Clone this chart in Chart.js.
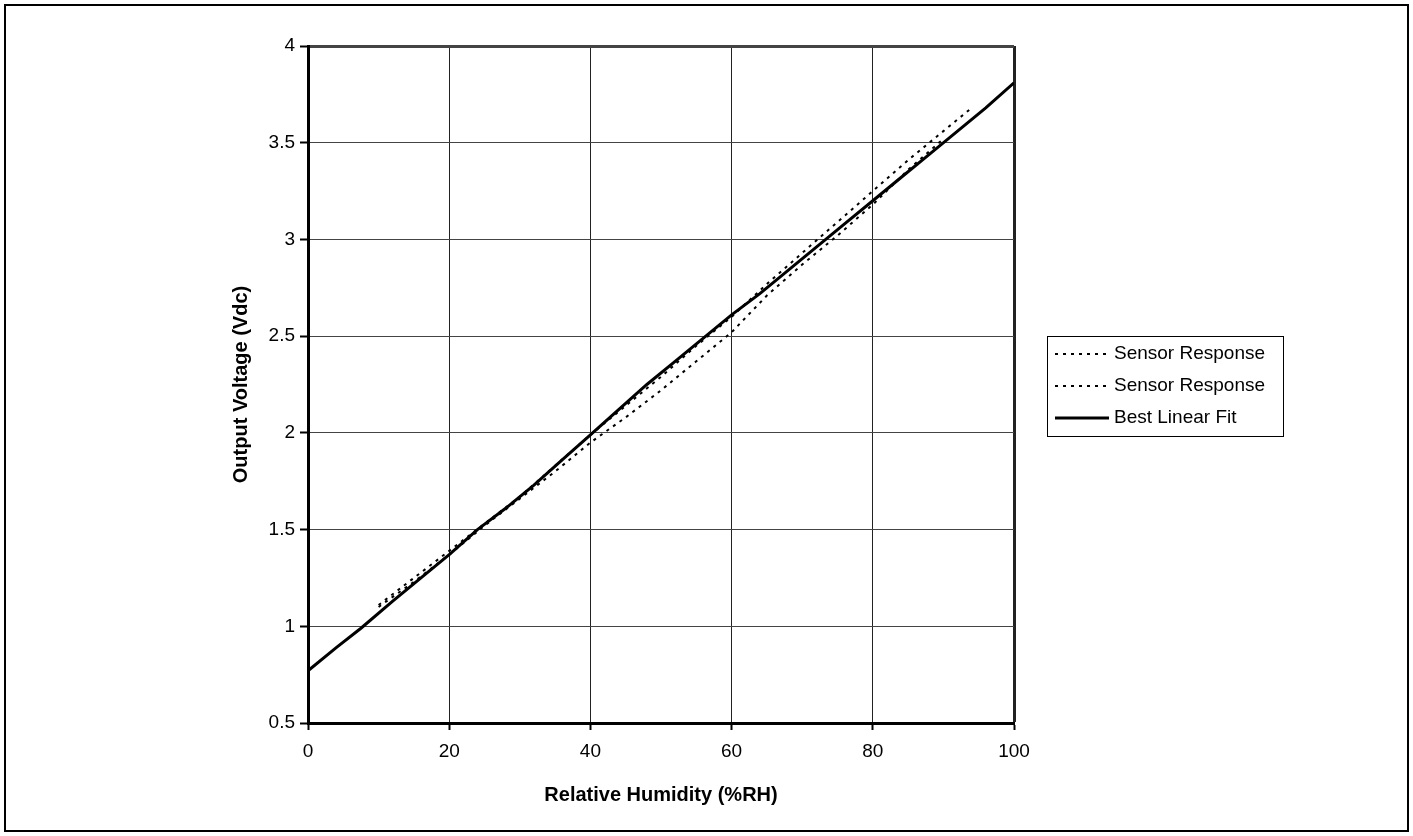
<!DOCTYPE html>
<html>
<head>
<meta charset="utf-8">
<script src="https://cdn.jsdelivr.net/npm/chart.js@4.4.1/dist/chart.umd.min.js"></script>
<style>
  html, body { margin: 0; padding: 0; background: #fff; }
  #wrap { width: 1413px; height: 836px; }
</style>
</head>
<body>
<div id="wrap"><canvas id="humidityChart" width="1413" height="836"></canvas></div>
<script>
// --- Chart values ---
const xTicks = [0, 20, 40, 60, 80, 100];
const yTicks = [0.5, 1, 1.5, 2, 2.5, 3, 3.5, 4];

// Sensor response, upper trace (%RH / Vdc)
const rhUp = [10, 15, 20, 25, 30, 35, 40, 45, 50, 55, 60, 65, 70, 75, 80, 85, 90, 94];
const vUp = [1.11, 1.25, 1.39, 1.53, 1.67, 1.83, 1.99, 2.14, 2.29, 2.45, 2.60, 2.77, 2.93, 3.09, 3.25, 3.41, 3.56, 3.68];

// Sensor response, lower trace
const rhDown = [10, 15, 20, 25, 30, 35, 40, 45, 50, 55, 60, 65, 70, 75, 80, 85, 90];
const vDown = [1.10, 1.23, 1.37, 1.52, 1.66, 1.80, 1.95, 2.08, 2.22, 2.37, 2.52, 2.71, 2.87, 3.02, 3.18, 3.36, 3.52];

// Best linear fit
const rhFit = [0, 4, 7.5, 12, 16, 20, 24, 28, 32, 36, 40, 44, 48, 52, 56, 60, 64, 68, 72, 76, 80, 84, 88, 92, 96, 100];
const vFit = [0.77, 0.89, 0.99, 1.13, 1.25, 1.37, 1.50, 1.61, 1.73, 1.86, 1.99, 2.12, 2.25, 2.37, 2.49, 2.61, 2.72, 2.84, 2.96, 3.08, 3.20, 3.32, 3.44, 3.56, 3.68, 3.81];

const toPoints = (xs, ys) => xs.map((x, i) => ({ x: x, y: ys[i] }));

const FONT = "'Liberation Sans', Arial, sans-serif";

// Outer frame around the whole picture
const frame = {
    id: 'frame',
    beforeDraw(chart) {
        const ctx = chart.ctx;
        ctx.save();
        ctx.fillStyle = '#fff';
        ctx.fillRect(0, 0, chart.width, chart.height);
        ctx.strokeStyle = '#000';
        ctx.lineWidth = 2;
        ctx.strokeRect(5, 5, 1403, 826);
        ctx.restore();
    }
};

// Boxed legend to the right of the plot, like the original
const boxLegend = {
    id: 'boxLegend',
    afterDraw(chart, args, opts) {
        const ctx = chart.ctx;
        ctx.save();
        ctx.strokeStyle = '#000';
        ctx.lineWidth = 1;
        ctx.strokeRect(opts.left + 0.5, opts.top + 0.5, opts.width, opts.height);
        ctx.font = '19px ' + FONT;
        ctx.textBaseline = 'middle';
        chart.data.datasets.forEach((ds, i) => {
            const y = opts.top + opts.firstRow + i * opts.rowGap;
            ctx.beginPath();
            ctx.setLineDash(ds.borderDash || []);
            ctx.lineWidth = ds.borderWidth;
            ctx.strokeStyle = ds.borderColor;
            ctx.moveTo(opts.left + 8, y);
            ctx.lineTo(opts.left + 62, y);
            ctx.stroke();
            ctx.setLineDash([]);
            ctx.fillStyle = '#000';
            ctx.fillText(ds.label, opts.left + 67, y);
        });
        ctx.restore();
    }
};

new Chart(document.getElementById('humidityChart'), {
    type: 'scatter',
    data: {
        datasets: [
            {
                label: 'Sensor Response',
                data: toPoints(rhUp, vUp),
                showLine: true,
                borderColor: '#000',
                borderWidth: 2,
                borderDash: [3, 5],
                pointRadius: 0
            },
            {
                label: 'Sensor Response',
                data: toPoints(rhDown, vDown),
                showLine: true,
                borderColor: '#000',
                borderWidth: 2,
                borderDash: [3, 5],
                pointRadius: 0
            },
            {
                label: 'Best Linear Fit',
                data: toPoints(rhFit, vFit),
                showLine: true,
                borderColor: '#000',
                borderWidth: 3,
                pointRadius: 0
            }
        ]
    },
    options: {
        responsive: false,
        animation: false,
        devicePixelRatio: 1,
        layout: { padding: { left: 225, right: 399, top: 46, bottom: 26 } },
        plugins: {
            legend: { display: false },
            tooltip: { enabled: false },
            boxLegend: { left: 1047, top: 336, width: 236, height: 100, firstRow: 18, rowGap: 32 }
        },
        scales: {
            x: {
                type: 'linear',
                min: 0,
                max: 100,
                afterFit: (scale) => { scale.height = 87; },
                afterBuildTicks: (scale) => { scale.ticks = xTicks.map(v => ({ value: v })); },
                grid: {
                    color: '#222',
                    lineWidth: (c) => (c.tick && c.tick.value === 100 ? 3 : 1),
                    tickColor: '#000',
                    tickWidth: 2,
                    tickLength: 7
                },
                border: { color: '#000', width: 3 },
                ticks: {
                    color: '#000',
                    padding: 10,
                    font: { family: FONT, size: 19 },
                    callback: (v) => String(v)
                },
                title: {
                    display: true,
                    text: 'Relative Humidity (%RH)',
                    color: '#000',
                    padding: { top: 0, bottom: 3 },
                    font: { family: FONT, size: 20, weight: 'bold' }
                }
            },
            y: {
                type: 'linear',
                min: 0.5,
                max: 4,
                afterFit: (scale) => { scale.width = 83; },
                afterBuildTicks: (scale) => { scale.ticks = yTicks.map(v => ({ value: v })); },
                grid: {
                    color: '#444',
                    lineWidth: (c) => (c.tick && c.tick.value === 4 ? 3 : 1),
                    tickColor: '#000',
                    tickWidth: 2,
                    tickLength: 8
                },
                border: { color: '#000', width: 3 },
                ticks: {
                    color: '#000',
                    padding: 5,
                    font: { family: FONT, size: 19 },
                    callback: (v) => String(v)
                },
                title: {
                    display: true,
                    text: 'Output Voltage (Vdc)',
                    color: '#000',
                    padding: { top: 4, bottom: 0 },
                    font: { family: FONT, size: 20, weight: 'bold' }
                }
            }
        }
    },
    plugins: [frame, boxLegend]
});
</script>
</body>
</html>
